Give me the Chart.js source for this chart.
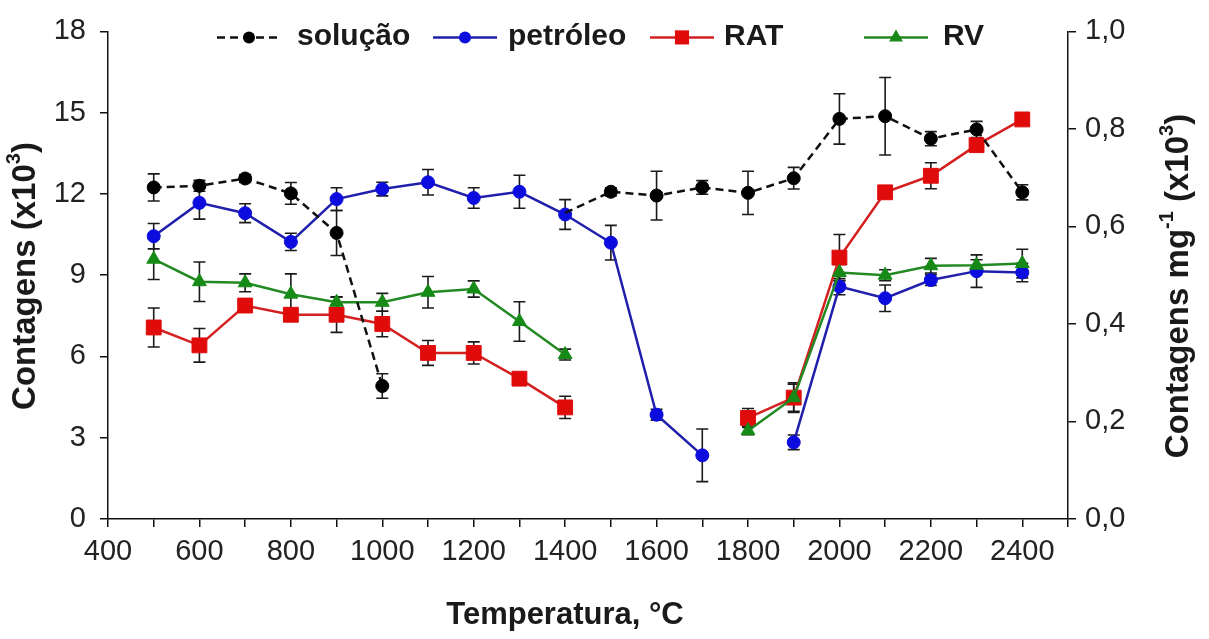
<!DOCTYPE html>
<html>
<head>
<meta charset="utf-8">
<script src="https://cdn.jsdelivr.net/npm/chart.js@4/dist/chart.umd.min.js"></script>
<style>
  html, body { margin: 0; padding: 0; background: #fff; }
  #wrap { width: 1209px; height: 639px; position: relative; }
</style>
</head>
<body>
<div id="wrap"><canvas id="chart"></canvas></div>
<script>
// temperatures (°C)
const temps = [500, 600, 700, 800, 900, 1000, 1100, 1200, 1300, 1400,
  1500, 1600, 1700, 1800, 1900, 2000, 2100, 2200, 2300, 2400];

// contagens (x10^3); null = no point
const solucao = [12.24, 12.3, 12.57, 12.02, 10.56, 4.91, null, null, null, 11.3,
  12.08, 11.94, 12.24, 12.04, 12.58, 14.77, 14.87, 14.04, 14.38, 12.06];
const solucaoErr = [0.5, 0.2, 0.15, 0.4, 0.83, 0.45, null, null, null, null,
  0.15, 0.9, 0.25, 0.8, 0.4, 0.93, 1.43, 0.26, 0.3, 0.28];

const petroleo = [10.44, 11.67, 11.29, 10.23, 11.81, 12.18, 12.43, 11.85, 12.08, 11.24,
  10.2, 3.85, 2.35, null, 2.83, 8.58, 8.15, 8.82, 9.15, 9.1];
const petroleoErr = [0.47, 0.6, 0.35, 0.32, 0.42, 0.25, 0.47, 0.38, 0.61, 0.55,
  0.64, 0.2, 0.97, null, 0.27, 0.3, 0.49, 0.2, 0.6, 0.34];

const rat = [7.07, 6.41, 7.88, 7.54, 7.54, 7.2, 6.13, 6.13, 5.18, 4.12,
  null, null, null, 3.73, 4.48, 9.65, 12.06, 12.67, 13.8, 14.75];
const ratErr = [0.72, 0.62, 0.1, 0.1, 0.65, 0.47, 0.46, 0.41, 0.1, 0.41,
  null, null, null, 0.35, 0.55, 0.85, 0.15, 0.48, 0.15, 0.15];

const rv = [9.59, 8.76, 8.72, 8.3, 8.0, 8.0, 8.37, 8.49, 7.29, 6.07,
  null, null, null, 3.26, 4.48, 9.1, 9.0, 9.35, 9.37, 9.43];
const rvErr = [0.75, 0.73, 0.33, 0.75, 0.2, 0.33, 0.58, 0.3, 0.73, 0.2,
  null, null, null, 0.15, 0.5, 0.3, 0.2, 0.27, 0.2, 0.53];

// axis ticks
const xRange = [400, 2500];
const xLabelStep = 200;
const yLeftTicks = [0, 3, 6, 9, 12, 15, 18];
const yRightTicks = ["0,0", "0,2", "0,4", "0,6", "0,8", "1,0"];

const FONT = '"Liberation Sans", Arial, Helvetica, sans-serif';

const toPoints = (vals) => temps.map((t, i) => ({ x: t, y: vals[i] }));

const datasets = [
  {
    label: "solução",
    data: toPoints(solucao),
    errors: solucaoErr,
    borderColor: "#111",
    backgroundColor: "#000",
    borderDash: [8, 5],
    pointStyle: "circle",
    // 1400 point sits under the blue marker
    pointRadius: solucao.map((v, i) => (temps[i] === 1400 ? 0 : 6.5)),
    order: 0,
  },
  {
    label: "petróleo",
    data: toPoints(petroleo),
    errors: petroleoErr,
    borderColor: "#2020ac",
    backgroundColor: "#0c0cde",
    pointStyle: "circle",
    pointRadius: 6.5,
    order: 3,
  },
  {
    label: "RAT",
    data: toPoints(rat),
    errors: ratErr,
    borderColor: "#d42020",
    backgroundColor: "#e00c0c",
    pointStyle: "rect",
    pointRadius: 10.5,
    order: 2,
  },
  {
    label: "RV",
    data: toPoints(rv),
    errors: rvErr,
    borderColor: "#238a23",
    backgroundColor: "#168a16",
    pointStyle: "triangle",
    pointRadius: 8,
    order: 1,
  },
];

datasets.forEach((d) => {
  d.borderWidth = 2.5;
  d.pointBackgroundColor = d.backgroundColor;
  d.pointBorderColor = d.backgroundColor;
  d.pointBorderWidth = 1;
  d.spanGaps = false;
  d.tension = 0;
});

// error bars, drawn through the y scale
const errorBars = {
  id: "errorBars",
  beforeDatasetsDraw(chart) {
    const { ctx } = chart;
    const xs = chart.scales.x;
    const ys = chart.scales.y;
    ctx.save();
    ctx.strokeStyle = "#1a1a1a";
    ctx.lineWidth = 1.6;
    ctx.setLineDash([]);
    chart.data.datasets.forEach((ds) => {
      ds.data.forEach((p, i) => {
        const e = ds.errors[i];
        if (p.y == null || e == null) return;
        const px = xs.getPixelForValue(p.x);
        const top = ys.getPixelForValue(p.y + e);
        const bot = ys.getPixelForValue(p.y - e);
        ctx.beginPath();
        ctx.moveTo(px, top);
        ctx.lineTo(px, bot);
        ctx.moveTo(px - 6, top);
        ctx.lineTo(px + 6, top);
        ctx.moveTo(px - 6, bot);
        ctx.lineTo(px + 6, bot);
        ctx.stroke();
      });
    });
    ctx.restore();
  },
};

function drawMarker(ctx, style, r, x, y) {
  ctx.beginPath();
  if (style === "circle") {
    ctx.arc(x, y, r, 0, Math.PI * 2);
  } else if (style === "rect") {
    const s = r * Math.SQRT1_2;
    ctx.rect(x - s, y - s, 2 * s, 2 * s);
  } else if (style === "triangle") {
    ctx.moveTo(x, y - r);
    ctx.lineTo(x + r * Math.sin(Math.PI * 2 / 3), y - r * Math.cos(Math.PI * 2 / 3));
    ctx.lineTo(x + r * Math.sin(Math.PI * 4 / 3), y - r * Math.cos(Math.PI * 4 / 3));
    ctx.closePath();
  }
  ctx.fill();
}

// text with superscript parts
function richText(ctx, parts, cx, cy, size) {
  const big = "bold " + size + "px " + FONT;
  const small = "bold " + Math.round(size * 0.62) + "px " + FONT;
  let total = 0;
  parts.forEach((p) => {
    ctx.font = p.sup ? small : big;
    total += ctx.measureText(p.t).width;
  });
  let x = cx - total / 2;
  parts.forEach((p) => {
    ctx.font = p.sup ? small : big;
    ctx.fillText(p.t, x, p.sup ? cy - size * 0.36 : cy);
    x += ctx.measureText(p.t).width;
  });
}

// legend row + axis titles
const legendX = [217, 433, 650, 864];
const legendTextX = [297, 508, 724, 943];

const decorations = {
  id: "decorations",
  afterDraw(chart) {
    const { ctx, chartArea } = chart;
    ctx.save();
    const ly = chartArea.top + 6;
    chart.data.datasets.forEach((ds, i) => {
      const x0 = legendX[i];
      ctx.strokeStyle = ds.borderColor;
      ctx.lineWidth = 2.5;
      ctx.setLineDash(ds.borderDash || []);
      ctx.beginPath();
      ctx.moveTo(x0, ly);
      ctx.lineTo(x0 + 64, ly);
      ctx.stroke();
      ctx.setLineDash([]);
      ctx.fillStyle = ds.backgroundColor;
      const r = ds.pointStyle === "circle" ? 6 : ds.pointStyle === "rect" ? 10 : 8;
      drawMarker(ctx, ds.pointStyle, r, x0 + 32, ly);
      ctx.fillStyle = "#1a1a1a";
      ctx.font = "bold 30px " + FONT;
      ctx.textBaseline = "middle";
      ctx.textAlign = "left";
      ctx.fillText(ds.label, legendTextX[i], ly - 1);
    });

    ctx.fillStyle = "#1a1a1a";
    ctx.textAlign = "left";
    ctx.textBaseline = "middle";

    // x title
    ctx.font = "bold 31px " + FONT;
    ctx.textAlign = "center";
    ctx.fillText("Temperatura, °C", 565, 615);
    ctx.textAlign = "left";

    // left y title
    ctx.save();
    ctx.translate(26, 276);
    ctx.rotate(-Math.PI / 2);
    richText(ctx, [{ t: "Contagens (x10" }, { t: "3", sup: true }, { t: ")" }], 0, 0, 33);
    ctx.restore();

    // right y title
    ctx.save();
    ctx.translate(1179, 286);
    ctx.rotate(-Math.PI / 2);
    richText(ctx, [
      { t: "Contagens mg" }, { t: "-1", sup: true },
      { t: " (x10" }, { t: "3", sup: true }, { t: ")" },
    ], 0, 0, 33);
    ctx.restore();

    ctx.restore();
  },
};

const tickFont = { family: FONT, size: 29 };
const axisGrid = {
  display: true,
  drawOnChartArea: false,
  drawTicks: true,
  tickLength: 8,
  color: "#111",
  lineWidth: 1.5,
};
const axisBorder = { display: true, color: "#111", width: 1.5 };

const config = {
  type: "line",
  data: { datasets: datasets },
  options: {
    responsive: true,
    maintainAspectRatio: false,
    animation: false,
    devicePixelRatio: 1,
    layout: { padding: { top: 28, left: 0, right: 0, bottom: 0 } },
    plugins: {
      legend: { display: false },
      tooltip: { enabled: false },
    },
    scales: {
      x: {
        type: "linear",
        position: "bottom",
        min: xRange[0],
        max: xRange[1],
        grid: axisGrid,
        border: axisBorder,
        ticks: {
          stepSize: 100,
          autoSkip: false,
          maxRotation: 0,
          padding: 8,
          color: "#222",
          font: tickFont,
          callback: (v) => (v % xLabelStep === 0 && v < xRange[1] ? String(v) : ""),
        },
        afterFit: (s) => { s.height = 120; },
      },
      y: {
        position: "left",
        min: yLeftTicks[0],
        max: yLeftTicks[yLeftTicks.length - 1],
        grid: axisGrid,
        border: axisBorder,
        ticks: {
          stepSize: yLeftTicks[1] - yLeftTicks[0],
          padding: 14,
          color: "#222",
          font: tickFont,
        },
        afterFit: (s) => { s.width = 108; },
      },
      y2: {
        position: "right",
        min: 0,
        max: 1,
        grid: axisGrid,
        border: axisBorder,
        ticks: {
          stepSize: 0.2,
          padding: 9,
          color: "#222",
          font: tickFont,
          callback: (v) => yRightTicks[Math.round(v * 5)],
        },
        afterFit: (s) => { s.width = 141; },
      },
    },
  },
  plugins: [errorBars, decorations],
};

const chart = new Chart(document.getElementById("chart"), config);
</script>
</body>
</html>
